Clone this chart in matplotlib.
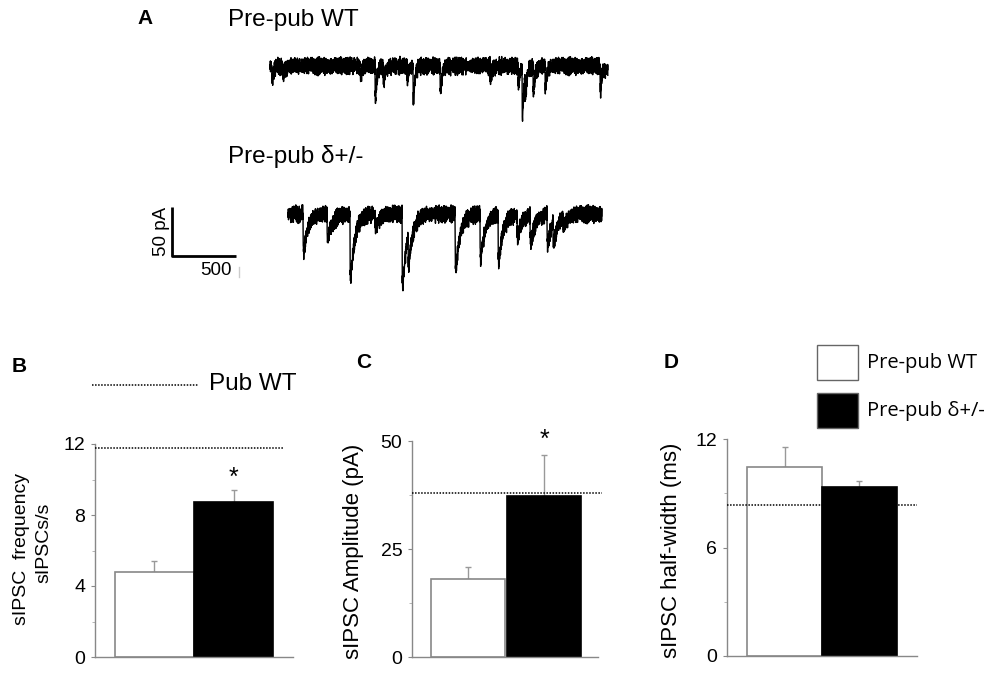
import numpy as np
import matplotlib
matplotlib.use("Agg")
import matplotlib.pyplot as plt

plt.rcParams['font.family'] = ['Liberation Sans', 'DejaVu Sans']

# ---- panel A: event times (ms from trace start) and amplitudes (pA)
wt_events_t = [13, 102, 703, 820, 883, 1070, 1117, 1328, 1719, 1937, 1969, 1992, 2055, 2148, 2578, 2617]
wt_events_a = [14, 10, 12, 34, 18, 13, 33, 28, 14, 20, 52, 26, 28, 23, 25, 6]
wt_length = 2640

het_events_t = [117, 305, 484, 680, 891, 938, 1305, 1500, 1641, 1789, 1891, 2023, 2070, 2148]
het_events_a = [38, 28, 66, 13, 74, 32, 58, 46, 49, 22, 29, 30, 22, 10]
het_length = 2453

# baseline jitter (pA), two short hand-typed lists combined
noise_a = [1.8, -2.6, 0.9, 3.1, -1.2, -3.4, 2.2, 0.4, -0.8, 2.9, -2.1, 1.5, -3.0, 0.2, 2.6, -1.7,
           3.3, -0.5, -2.8, 1.1, 2.0, -3.2, 0.7, -1.4, 3.0, -2.4, 0.0, 1.9, -0.9, 2.7, -3.1, 1.3,
           -2.0, 0.6, 3.2, -1.6, 2.4]
noise_b = [-1.1, 0.8, 1.6, -0.4, -1.9, 1.2, 0.3, -1.5, 1.9, -0.7, 0.5, -1.8, 1.4, 0.1, -1.2, 1.7,
           -0.3, -1.6, 0.9, 1.1, -0.6, -1.4, 1.8, 0.2, -1.0, 1.3, -1.7, 0.6, 1.5, -0.2, -1.3, 0.4,
           1.0, -1.9, 0.7, 1.6, -0.8, -0.1, 1.2, -1.5, 0.9, 0.3, -1.1, 1.7, -0.5, -1.8, 1.4, 0.0,
           -0.9, 1.1, -1.2, 0.5, 1.3]

# ---- panels B-D
groups = ['Pre-pub WT', 'Pre-pub δ+/-']
freq_mean = [4.8, 8.75]
freq_err = [0.6, 0.65]
freq_pub = 11.75
amp_mean = [18.0, 37.3]
amp_err = [2.8, 9.5]
amp_pub = 38.0
hw_mean = [10.45, 9.35]
hw_err = [1.1, 0.35]
hw_pub = 8.35


def build_trace(times, amps, length, tau_d, tau_r=1.5):
    t = np.arange(length, dtype=float)
    y = np.zeros_like(t)
    tp = tau_d * tau_r / (tau_d - tau_r) * np.log(tau_d / tau_r)
    peak = np.exp(-tp / tau_d) - np.exp(-tp / tau_r)
    for t0, a in zip(times, amps):
        s = t - t0
        m = s >= 0
        y[m] -= a * (np.exp(-s[m] / tau_d) - np.exp(-s[m] / tau_r)) / peak
    na = np.resize(noise_a, len(t))
    nb = np.resize(noise_b, len(t))
    y += 1.9 * (na + nb)
    return t, y


fig = plt.figure(figsize=(10, 6.74), dpi=100)


def px_axes(l, t, r, b):
    return fig.add_axes([l / 1000, 1 - b / 674, (r - l) / 1000, (b - t) / 674])


# trace axes: 500 ms = 64 px, 50 pA = 49 px
ms_px = 500 / 64
pa_px = 50 / 49
axA = px_axes(140, 40, 620, 300)
axA.set_xlim(0, 480 * ms_px)
axA.set_ylim(-260 * pa_px, 0)
axA.axis('off')

t1, y1 = build_trace(wt_events_t, wt_events_a, wt_length, tau_d=12)
axA.plot(t1 + 130 * ms_px, y1 - 26 * pa_px, color='black', lw=1.0)
t2, y2 = build_trace(het_events_t, het_events_a, het_length, tau_d=35)
axA.plot(t2 + 148 * ms_px, y2 - 174 * pa_px, color='black', lw=1.0)

# scale bar
sx, sy = 32 * ms_px, -216 * pa_px
axA.plot([sx, sx, sx + 500], [sy + 50, sy, sy], color='black', lw=2, solid_capstyle='butt')
axA.text(sx - 14, sy + 25, '50 pA', rotation=90, ha='right', va='center', fontsize=13.5)
axA.text(sx + 470, sy - 6, '500', ha='right', va='top', fontsize=13.5)
axA.plot([sx + 520, sx + 520], [sy - 11, sy - 21], color='#cccccc', lw=1)

fig.text(0.137, 1 - 19 / 674, 'A', fontsize=15, fontweight='bold', va='center')
fig.text(0.228, 1 - 20 / 674, 'Pre-pub WT', fontsize=17.5, va='center')
fig.text(0.228, 1 - 156 / 674, 'Pre-pub δ+/-', fontsize=17.5, va='center')


def bar_panel(ax, means, errs, pub, ymax, major, minor, xlim, width, pub_xmax, star_y=None):
    x = np.arange(len(means))
    ax.bar(x, means, width=width, color=['white', 'black'], edgecolor=['#888888', 'black'],
           linewidth=1.2, zorder=2)
    ax.errorbar(x, means, yerr=[[0, 0], errs], fmt='none', ecolor='#999999', elinewidth=1,
                capsize=2, capthick=1, zorder=1)
    ax.axhline(pub, xmin=0, xmax=pub_xmax, color='black', ls=(0, (1, 1)), lw=1.1, clip_on=False, zorder=3)
    if star_y is not None:
        ax.text(1, star_y, '*', ha='center', va='center', fontsize=18)
    ax.set_xlim(*xlim)
    ax.set_ylim(0, ymax)
    ax.set_yticks(major)
    ax.set_yticks(minor, minor=True)
    ax.set_xticks([])
    for s in ['top', 'right']:
        ax.spines[s].set_visible(False)
    for s in ['left', 'bottom']:
        ax.spines[s].set_color('#888888')
        ax.spines[s].set_linewidth(1)
    ax.tick_params(axis='y', which='major', length=3, color='#888888', labelsize=14, pad=4)
    ax.tick_params(axis='y', which='minor', length=2, color='#aaaaaa')
    ax.set_facecolor('none')


axB = px_axes(95, 444, 293, 657)
bar_panel(axB, freq_mean, freq_err, freq_pub, 12, [0, 4, 8, 12], [2, 6, 10],
          (-0.75, 1.75), 1.0, 0.95, star_y=10.1)
fig.text(22 / 1000, 1 - 549 / 674, 'sIPSC  frequency', rotation=90, ha='center', va='center', fontsize=14)
fig.text(44 / 1000, 1 - 543 / 674, 'sIPSCs/s', rotation=90, ha='center', va='center', fontsize=14)

axC = px_axes(412, 441, 598, 657)
bar_panel(axC, amp_mean, amp_err, amp_pub, 50, [0, 25, 50], [12.5, 37.5],
          (-0.737, 1.71), 0.98, 1.02, star_y=50.3)
fig.text(354 / 1000, 1 - 551 / 674, 'sIPSC Amplitude (pA)', rotation=90, ha='center', va='center', fontsize=16)

axD = px_axes(727, 439, 917, 656)
bar_panel(axD, hw_mean, hw_err, hw_pub, 12, [0, 6, 12], [3, 9],
          (-0.767, 1.767), 1.0, 1.0)
fig.text(672 / 1000, 1 - 550 / 674, 'sIPSC half-width (ms)', rotation=90, ha='center', va='center', fontsize=16)

fig.text(12 / 1000, 1 - 366 / 674, 'B', fontsize=15, fontweight='bold', va='center')
fig.text(356 / 1000, 1 - 363 / 674, 'C', fontsize=15, fontweight='bold', va='center')
fig.text(664 / 1000, 1 - 363 / 674, 'D', fontsize=15, fontweight='bold', va='center')

# "Pub WT" key above panel B
fig.add_artist(plt.Line2D([92 / 1000, 198 / 1000], [1 - 385 / 674] * 2, color='black',
                          ls=(0, (1, 1)), lw=1.1))
fig.text(209 / 1000, 1 - 384 / 674, 'Pub WT', fontsize=17.5, va='center')

# group key in panel D
for i, (g, fc) in enumerate(zip(groups, ['white', 'black'])):
    top = 345 + i * 48
    fig.add_artist(plt.Rectangle((817 / 1000, 1 - (top + 35) / 674), 41 / 1000, 35 / 674,
                                 facecolor=fc, edgecolor='#666666', lw=1))
    fig.text(867 / 1000, 1 - (top + 18) / 674, g, fontsize=14.5, va='center',
             family=['Open Sans', 'DejaVu Sans'])

fig.savefig('out.png', dpi=100)
